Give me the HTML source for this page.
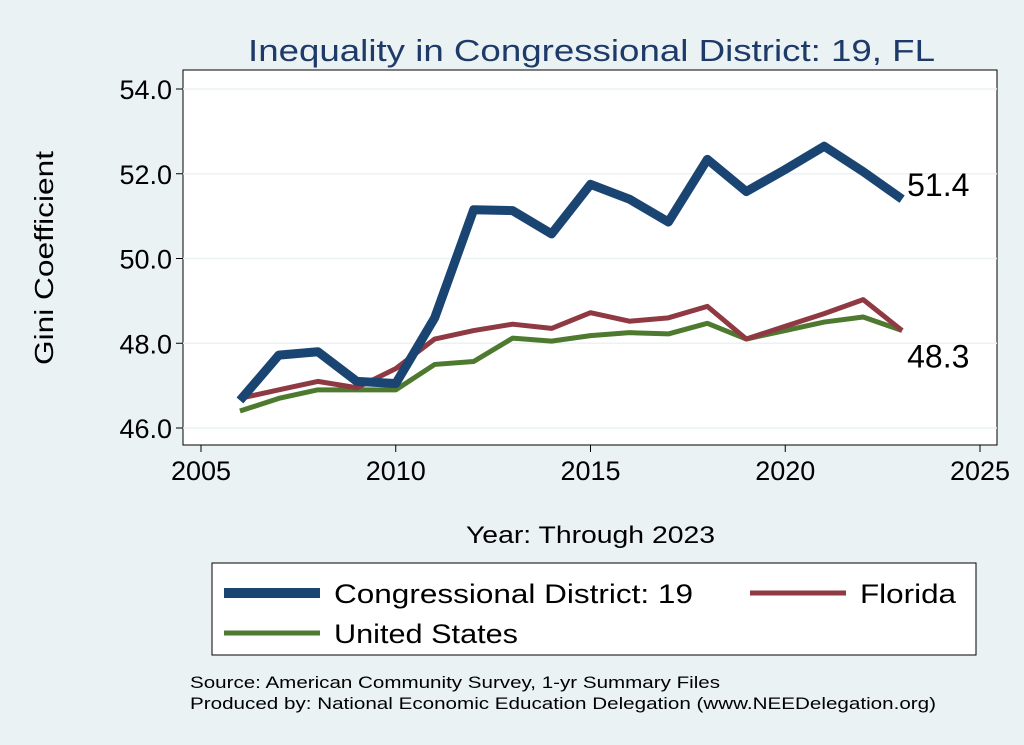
<!DOCTYPE html>
<html><head><meta charset="utf-8"><style>
body{margin:0;background:#eaf2f3;}
svg{display:block;font-family:"Liberation Sans",Arial,sans-serif;}
</style></head><body>
<svg id="c" width="1024" height="745" viewBox="0 0 1024 745">
<rect x="0" y="0" width="1024" height="745" fill="#eaf2f3"/>
<text x="248" y="61" font-size="31" fill="#1e3a68" textLength="687" lengthAdjust="spacingAndGlyphs">Inequality in Congressional District:  19, FL</text>
<rect x="183" y="70" width="814" height="375" fill="#fff" stroke="#000" stroke-width="1"/>
<g id="grid"></g><g id="axes"></g><g id="series"></g>
<text transform="translate(53,258) rotate(-90)" font-size="26" text-anchor="middle" textLength="214" lengthAdjust="spacingAndGlyphs">Gini Coefficient</text>
<text x="466" y="543" font-size="24" textLength="249" lengthAdjust="spacingAndGlyphs">Year: Through 2023</text>
<g>
<rect x="212" y="563" width="764" height="92" fill="#fff" stroke="#000" stroke-width="1"/>
<line x1="224" y1="593" x2="320" y2="593" stroke="#1a4472" stroke-width="10"/>
<text x="334" y="603" font-size="27" textLength="359" lengthAdjust="spacingAndGlyphs">Congressional District:  19</text>
<line x1="750" y1="593" x2="846" y2="593" stroke="#8f3a43" stroke-width="5"/>
<text x="860" y="603" font-size="27" textLength="96" lengthAdjust="spacingAndGlyphs">Florida</text>
<line x1="224" y1="633" x2="320" y2="633" stroke="#4e7a30" stroke-width="5"/>
<text x="334" y="643" font-size="27" textLength="184" lengthAdjust="spacingAndGlyphs">United States</text>
</g>
<text x="190" y="688" font-size="17" textLength="530" lengthAdjust="spacingAndGlyphs">Source: American Community Survey, 1-yr Summary Files</text>
<text x="190" y="709" font-size="17" textLength="746" lengthAdjust="spacingAndGlyphs">Produced by: National Economic Education Delegation (www.NEEDelegation.org)</text>
</svg>
<script>
const years=[2006,2007,2008,2009,2010,2011,2012,2013,2014,2015,2016,2017,2018,2019,2020,2021,2022,2023];
const district=[46.65,47.72,47.8,47.1,47.05,48.6,51.15,51.13,50.58,51.75,51.4,50.86,52.34,51.58,52.1,52.65,52.05,51.4];
const florida=[46.7,46.9,47.1,46.95,47.4,48.1,48.3,48.45,48.35,48.72,48.52,48.6,48.87,48.1,48.4,48.7,49.03,48.3];
const unitedStates=[46.4,46.7,46.9,46.9,46.9,47.5,47.57,48.12,48.05,48.18,48.25,48.22,48.47,48.1,48.3,48.5,48.62,48.3];
const xTicks=[2005,2010,2015,2020,2025];
const yTicks=[46,48,50,52,54];
const NS="http://www.w3.org/2000/svg";
const xs=v=>201+(v-2005)*(980-201)/20;
const ys=v=>428-(v-46)*(428-89)/8;
function mk(tag,attrs,parent,text){const e=document.createElementNS(NS,tag);for(const k in attrs)e.setAttribute(k,attrs[k]);if(text!==undefined)e.textContent=text;document.getElementById(parent).appendChild(e);return e;}
yTicks.forEach(t=>{
  const g=mk('line',{x1:183,x2:997,y1:ys(t),y2:ys(t),stroke:'#eaf2f3','stroke-width':1.5},'grid');
  
  
  const tk=mk('line',{x1:176,x2:183,y1:ys(t),y2:ys(t),stroke:'#000'},'axes');
  
  
  const l=mk('text',{x:172,y:ys(t)+10,'font-size':27,'text-anchor':'end'},'axes',t.toFixed(1));
  
  
});
xTicks.forEach(t=>{
  const tk=mk('line',{x1:xs(t),x2:xs(t),y1:445,y2:452,stroke:'#000'},'axes');
  
  
  const l=mk('text',{x:xs(t),y:480,'font-size':27,'text-anchor':'middle'},'axes',String(t));
  
  
});
function line(vals,color,w,name){
  const p=mk('polyline',{points:years.map((y,i)=>xs(y)+','+ys(vals[i])).join(' '),fill:'none',stroke:color,'stroke-width':w,'stroke-linejoin':'round'},'series');
  
  
}
line(unitedStates,'#4e7a30',5,'us-line');
line(florida,'#8f3a43',5,'florida-line');
line(district,'#1a4472',9,'district-line');
const n=years.length-1;
const a=mk('text',{x:xs(years[n])+5,y:ys(district[n])-3,'font-size':32},'series',district[n].toFixed(1));


const b=mk('text',{x:xs(years[n])+5,y:ys(florida[n])+37,'font-size':32},'series',florida[n].toFixed(1));


</script>
</body></html>
